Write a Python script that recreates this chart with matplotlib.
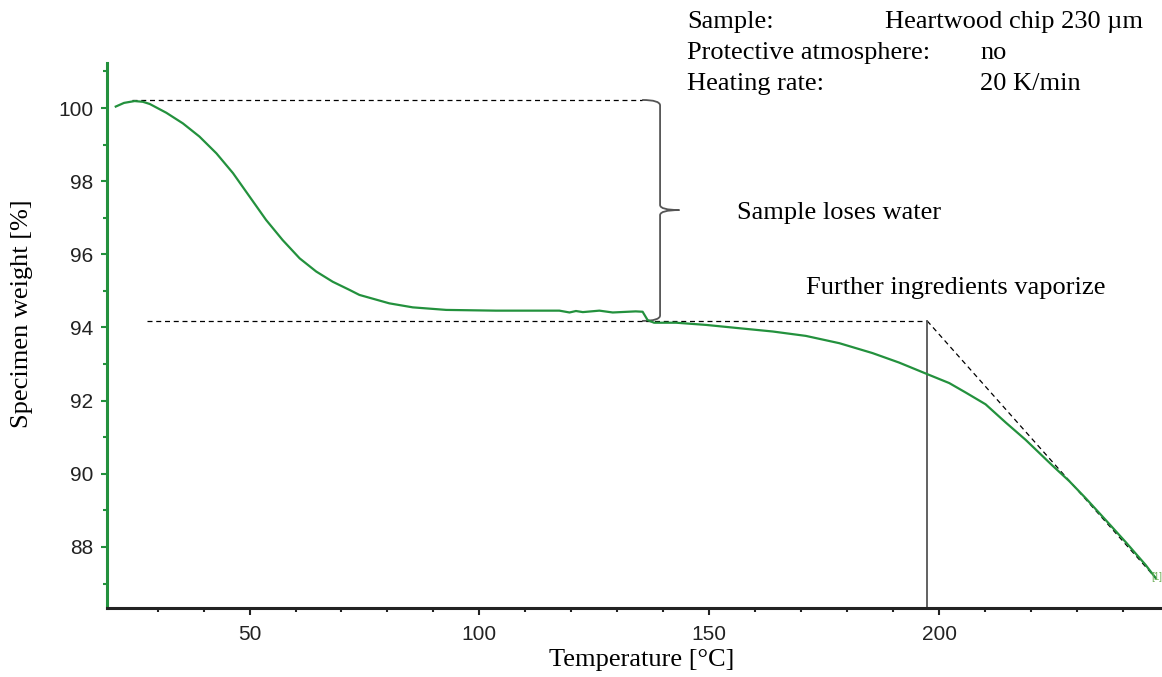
import matplotlib
matplotlib.use("Agg")
import matplotlib.pyplot as plt
from matplotlib.path import Path
from matplotlib.patches import PathPatch

# TGA curve
temperature = [20.9, 22.7, 25.0, 26.8, 28.3, 31.9, 35.5, 39.1, 42.8, 46.4, 50.0, 53.6,
               57.2, 60.9, 64.5, 68.1, 71.7, 73.9, 80.4, 85.5, 92.8, 103.6, 117.4,
               119.6, 121.0, 122.5, 126.1, 129.0, 134.0, 135.5, 136.6, 138.0, 142.8,
               149.3, 156.5, 163.8, 171.0, 178.3, 185.5, 191.3, 197.5, 202.2, 205.8,
               210.1, 214.5, 218.8, 221.7, 224.6, 228.3, 231.9, 236.2, 240.6, 244.9,
               247.1]
weight = [100.04, 100.14, 100.19, 100.17, 100.11, 99.87, 99.58, 99.22, 98.76, 98.22,
          97.58, 96.94, 96.39, 95.89, 95.53, 95.25, 95.03, 94.89, 94.66, 94.55, 94.48,
          94.46, 94.46, 94.41, 94.45, 94.42, 94.46, 94.41, 94.44, 94.43, 94.20, 94.13,
          94.13, 94.07, 93.98, 93.89, 93.77, 93.57, 93.30, 93.04, 92.72, 92.48, 92.22,
          91.90, 91.40, 90.93, 90.58, 90.23, 89.80, 89.33, 88.74, 88.13, 87.51, 87.15]

x_ticks = [50, 100, 150, 200]
y_ticks = [88, 90, 92, 94, 96, 98, 100]

info_keys = ["Sample:", "Protective atmosphere:", "Heating rate:"]
info_vals = ["Heartwood chip 230 µm", "no", "20 K/min"]

# reference levels for the annotations
w_start = 100.22
w_plateau = 94.18
t_onset = 197.4
t_end, w_end = 247.1, 87.15

green = "#23913d"
gray = "#555555"
serif = "Liberation Serif"
sans = "Liberation Sans"

fig = plt.figure(figsize=(11.62, 6.77), dpi=100)
ax = fig.add_axes([0.0921, 0.1019, 0.906, 0.805])

ax.plot(temperature, weight, color=green, lw=1.6, zorder=3)
ax.text(t_end - 1.0, w_end + 0.02, "[1]", color="#6fb05a", fontsize=7,
        family=sans, ha="left", va="center")

# dashed reference lines
dash = dict(color="black", lw=0.9, ls=(0, (4, 3)))
ax.plot([24.5, 135.4], [w_start, w_start], **dash)
ax.plot([27.8, t_onset], [w_plateau, w_plateau], **dash)
ax.plot([t_onset, t_end], [w_plateau, w_end], **dash)
ax.plot([t_onset, t_onset], [w_plateau, 86.33], color=gray, lw=1.3)

# curly brace for the water loss
bx, tip, cusp = 139.3, 135.4, 143.5
ymid = 97.21
verts = [(tip, w_start), (bx, w_start), (bx, w_start - 0.15),
         (bx, ymid + 0.14), (bx, ymid), (cusp, ymid),
         (bx, ymid), (bx, ymid - 0.14),
         (bx, w_plateau + 0.15), (bx, w_plateau), (tip, w_plateau)]
codes = [Path.MOVETO, Path.CURVE3, Path.CURVE3,
         Path.LINETO, Path.CURVE3, Path.CURVE3,
         Path.CURVE3, Path.CURVE3,
         Path.LINETO, Path.CURVE3, Path.CURVE3]
ax.add_patch(PathPatch(Path(verts, codes), fill=False, ec=gray, lw=1.3))

fig.text(737 / 1162, 1 - 213 / 677, "Sample loses water",
         family=serif, fontsize=19, va="center", ha="left")
fig.text(806 / 1162, 1 - 288 / 677, "Further ingredients vaporize",
         family=serif, fontsize=19, va="center", ha="left")

for i, (k, v) in enumerate(zip(info_keys, info_vals)):
    yy = 1 - (22 + 31 * i) / 677
    fig.text(687 / 1162, yy, k, family=serif, fontsize=19, va="center")
    xv = 885 if i == 0 else 980
    fig.text(xv / 1162, yy, v, family=serif, fontsize=19, va="center")

ax.set_xlim(19, 248)
ax.set_ylim(86.33, 101.23)
ax.set_xticks(x_ticks)
ax.set_xticks(range(30, 250, 10), minor=True)
ax.set_yticks(y_ticks)
ax.set_yticks(range(87, 102, 2), minor=True)

for s in ["top", "right"]:
    ax.spines[s].set_visible(False)
ax.spines["left"].set_color(green)
ax.spines["left"].set_linewidth(2.2)
ax.spines["bottom"].set_color("#222222")
ax.spines["bottom"].set_linewidth(2.2)

ax.tick_params(axis="x", which="major", length=5, width=1.5, color="#222222",
               pad=7, labelsize=15)
ax.tick_params(axis="x", which="minor", length=3, width=1.5, color="#222222")
ax.tick_params(axis="y", which="major", length=4, width=1.5, color=green,
               pad=6, labelsize=15)
ax.tick_params(axis="y", which="minor", length=3, width=1.5, color=green)
for lab in ax.get_xticklabels() + ax.get_yticklabels():
    lab.set_family(sans)
    lab.set_color("#222222")

fig.text(642 / 1162, 1 - 660 / 677, "Temperature [°C]", family=serif, fontsize=19,
         ha="center", va="center")
fig.text(22 / 1162, 1 - 314 / 677, "Specimen weight [%]", family=serif, fontsize=19,
         ha="center", va="center", rotation=90)

fig.savefig("out.png", dpi=100)
